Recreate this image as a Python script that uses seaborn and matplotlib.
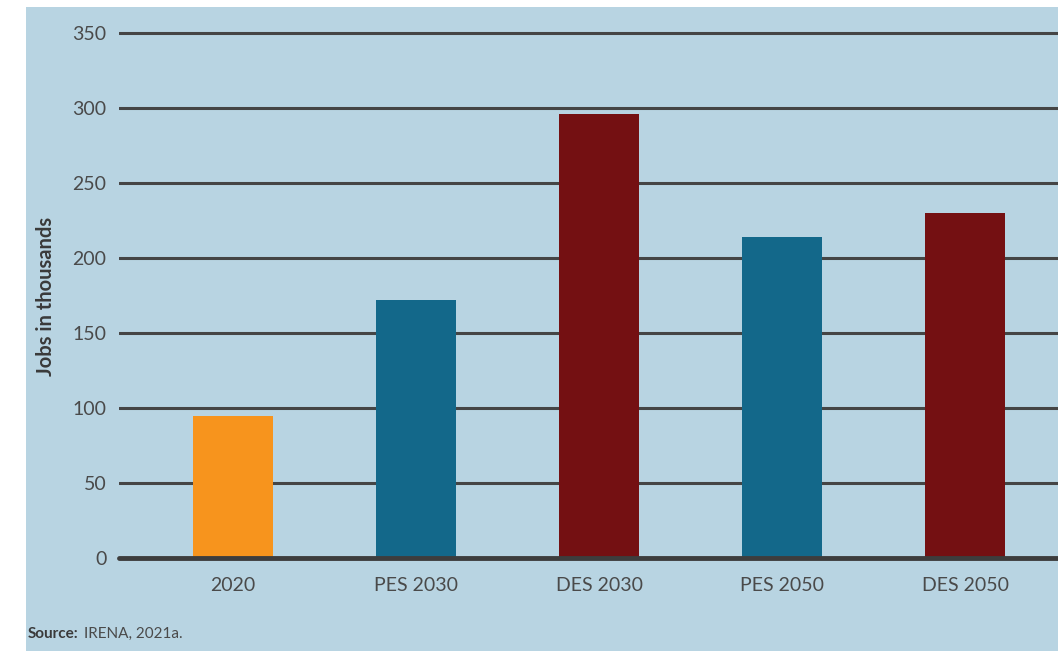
import matplotlib
matplotlib.use("Agg")
import matplotlib.pyplot as plt
import seaborn as sns
import pandas as pd
from matplotlib.patches import Rectangle

categories = ["2020", "PES 2030", "DES 2030", "PES 2050", "DES 2050"]
jobs = [95, 172, 296, 214, 230]
bar_colors = ["#f7941d", "#13688a", "#741012", "#13688a", "#741012"]
yticks = [0, 50, 100, 150, 200, 250, 300, 350]

df = pd.DataFrame({"scenario": categories, "jobs": jobs})

sns.set_theme(style="white")
plt.rcParams["font.family"] = ["Lato", "DejaVu Sans"]

W, H = 1058, 651
fig = plt.figure(figsize=(W / 100, H / 100), dpi=100)
fig.patch.set_facecolor("white")
bg = "#b8d4e2"
fig.patches.append(Rectangle((26 / W, 0), 1 - 26 / W, 1 - 7 / H,
                             transform=fig.transFigure, facecolor=bg,
                             edgecolor="none", zorder=-10))

ax_bottom = (H - 558) / H
ax_top_px = 28
ax = fig.add_axes([119 / W, ax_bottom, 1 - 119 / W, (558 - ax_top_px) / H])
ax.set_facecolor("none")
ax.set_zorder(5)

sns.barplot(data=df, x="scenario", y="jobs", hue="scenario",
            palette=bar_colors, legend=False, width=0.437, ax=ax,
            saturation=1, zorder=3, edgecolor="none", linewidth=0)

ax.set_ylim(0, (558 - ax_top_px) / 1.5)
ax.set_xlim(-0.623, 4.508)
ax.set_yticks(yticks)
for v in yticks:
    if v == 0:
        continue
    ax.axhline(v, color="#454545", lw=2.2, zorder=1)
ax.axhline(0, color="#3d3d3d", lw=3.5, zorder=4, clip_on=False)

for s in ax.spines.values():
    s.set_visible(False)

ax.tick_params(axis="y", length=0, pad=9, labelsize=14, labelcolor="#4a4a4a")
ax.tick_params(axis="x", length=0, pad=14, labelsize=14, labelcolor="#4a4a4a")
ax.set_xlabel("")
ax.set_ylabel("")

fig.text(46 / W, (H - 296) / H, "Jobs in thousands", rotation=90,
         ha="center", va="center", fontsize=14.5, fontweight="bold",
         color="#3a3a3a")

fig.text(28 / W, (H - 634) / H, "Source:", ha="left", va="center",
         fontsize=11, fontweight="bold", color="#3a3a3a")
fig.text(84 / W, (H - 634) / H, "IRENA, 2021a.", ha="left", va="center",
         fontsize=11, color="#4a4a4a")

fig.savefig("out.png", dpi=100, facecolor=fig.get_facecolor())
